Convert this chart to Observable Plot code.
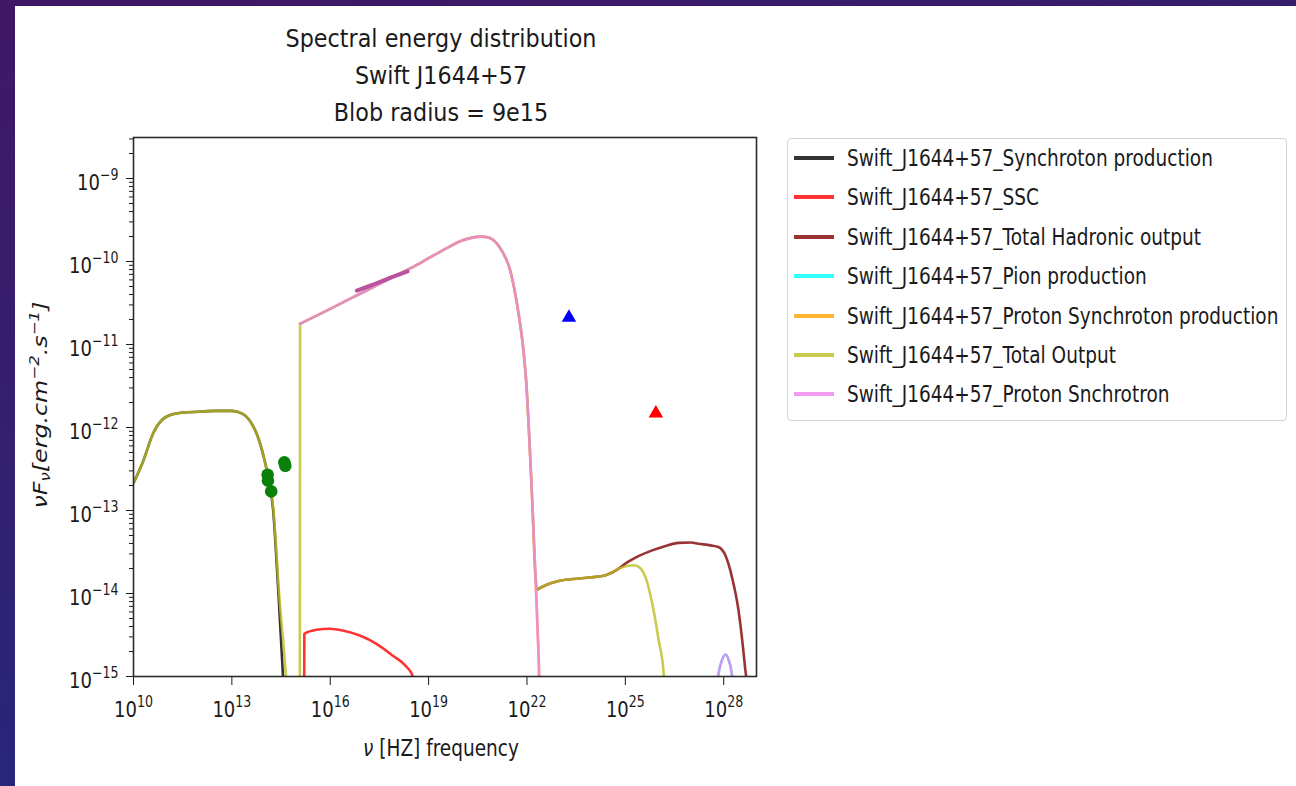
<!DOCTYPE html>
<html><head><meta charset="utf-8">
<script src="https://cdn.jsdelivr.net/npm/d3@7"></script>
<script src="https://cdn.jsdelivr.net/npm/@observablehq/plot@0.6"></script>
<style>
html,body{margin:0;padding:0;}
body{width:1296px;height:786px;overflow:hidden;position:relative;background:linear-gradient(165deg,#3f1765 0%,#33206f 40%,#1e2d88 100%);font-family:"DejaVu Sans",sans-serif;color:#1a1a1a;}
#panel{position:absolute;left:15px;top:6px;width:1281px;height:780px;background:#fff;}
#chart{position:absolute;left:0;top:0;}
#title{position:absolute;left:191px;width:500px;top:20px;text-align:center;font-size:22.3px;line-height:33px;transform:scaleY(1.12);transform-origin:0 0;}
#xlabel{position:absolute;left:291px;width:300px;top:741px;text-align:center;font-size:18.5px;line-height:18.5px;white-space:nowrap;transform:scaleY(1.2);transform-origin:50% 85%;}
#ylabel{position:absolute;left:40px;top:405px;font-size:19px;font-style:italic;white-space:nowrap;transform:translate(-50%,-50%) rotate(-90deg) scaleX(1.25);line-height:19px;}
#ylabel .sub{font-size:0.7em;vertical-align:-0.25em;}
#ylabel .sup{font-size:0.7em;vertical-align:0.6em;}
#legend{position:absolute;left:787px;top:138px;width:500px;height:283px;border:1px solid #d4d4d4;border-radius:4px;box-sizing:border-box;background:#fff;}
.row{position:absolute;left:0;width:100%;}
.sw{position:absolute;left:6px;width:40px;height:4px;}
.lt{position:absolute;left:59px;font-size:18.5px;line-height:20px;white-space:nowrap;transform:scaleY(1.2);transform-origin:0 70%;}
</style></head>
<body>
<div id="panel"></div>
<div id="chart"></div>
<div id="title">Spectral energy distribution<br>Swift J1644+57<br>Blob radius = 9e15</div>
<div id="xlabel"><i>ν</i> [HZ] frequency</div>
<div id="ylabel">ν<i>F</i><span class="sub">ν</span>[erg.cm<span class="sup">−2</span>.s<span class="sup">−1</span>]</div>
<div id="legend"></div>
<script>
// ---- tick labels (exponents of ten) ----
const xTickExp = [10, 13, 16, 19, 22, 25, 28];
const yTickExp = [-15, -14, -13, -12, -11, -10, -9];

// ---- series (log10 frequency [Hz], log10 nuF_nu [erg cm^-2 s^-1]) ----
const synchLogNu = [10.0, 10.3, 10.6, 11.0, 11.5, 12.0, 12.5, 13.0, 13.3, 13.6, 13.8, 14.0, 14.1, 14.26, 14.42, 14.56, 14.7];
const synchLogF  = [-12.67, -12.4, -12.07, -11.87, -11.82, -11.81, -11.80, -11.80, -11.83, -11.95, -12.12, -12.40, -12.58, -13.0, -14.0, -15.0, -16];

const sscLogNu = [15.2, 15.21, 15.58, 15.99, 16.38, 16.9, 17.41, 17.9, 18.32, 18.51, 18.6];
const sscLogF  = [-16, -14.486, -14.437, -14.425, -14.446, -14.506, -14.606, -14.747, -14.88, -14.99, -16];

const hadronLogNu = [22.33, 22.37, 22.57, 23.08, 23.59, 24.09, 24.4, 24.8, 25.0, 25.4, 25.82, 26.2, 26.63, 27.0, 27.23, 27.6, 27.84, 28.05, 28.15, 28.25, 28.45, 28.65, 28.7, 28.75];
const hadronLogF  = [-13.95, -13.94, -13.90, -13.84, -13.82, -13.80, -13.78, -13.70, -13.64, -13.55, -13.48, -13.43, -13.39, -13.385, -13.40, -13.42, -13.44, -13.54, -13.65, -13.80, -14.2, -14.89, -15.1, -16];

const pionLogNu = [27.7, 27.75, 27.85, 27.95, 28.06, 28.15, 28.24, 28.32, 28.36];
const pionLogF  = [-16, -15.3, -14.95, -14.8, -14.735, -14.8, -14.95, -15.3, -16];

const protonSynchLogNu = [15.08, 16.0, 17.0, 18.0, 18.5, 19.0, 19.5, 20.0, 20.3, 20.6, 20.85, 21.05, 21.2, 21.35, 21.46, 21.6, 21.76, 21.9, 21.98, 22.08, 22.16, 22.26, 22.33, 22.37, 22.4];
const protonSynchLogF  = [-10.75, -10.57, -10.37, -10.17, -10.07, -9.96, -9.85, -9.75, -9.715, -9.70, -9.715, -9.77, -9.85, -9.96, -10.07, -10.3, -10.67, -11.1, -11.47, -12.2, -12.88, -13.8, -14.5, -15.0, -16];

// total output, in three pieces (synchrotron part, jump, hadronic part)
const totalLogNu = [10.0, 10.3, 10.6, 11.0, 11.5, 12.0, 12.5, 13.0, 13.3, 13.6, 13.8, 14.0, 14.1, 14.27, 14.44, 14.65, 14.8,
  15.07, 15.08,
  15.08, 16.0, 17.0, 18.0, 18.5, 19.0, 19.5, 20.0, 20.3, 20.6, 20.85, 21.05, 21.2, 21.35, 21.46, 21.6, 21.76, 21.9, 21.98, 22.08, 22.16, 22.26,
  22.33, 22.37, 22.57, 23.08, 23.59, 24.09, 24.4, 24.8, 25.26, 25.41, 25.61, 25.82, 26.02, 26.17, 26.25];
const totalLogF  = [-12.67, -12.4, -12.07, -11.87, -11.82, -11.81, -11.80, -11.80, -11.83, -11.95, -12.12, -12.40, -12.58, -13.0, -14.0, -15.0, -16,
  -16, -10.75,
  -10.75, -10.57, -10.37, -10.17, -10.07, -9.96, -9.85, -9.75, -9.715, -9.70, -9.715, -9.77, -9.85, -9.96, -10.07, -10.3, -10.67, -11.1, -11.47, -12.2, -12.88, -13.8,
  -13.95, -13.94, -13.90, -13.84, -13.82, -13.80, -13.78, -13.70, -13.66, -13.68, -13.80, -14.12, -14.57, -14.97, -16];
const totalPiece = totalLogNu.map((v, i) => i < 17 ? 0 : i < 19 ? 1 : 2);

const protonSncLogNu = [...protonSynchLogNu, 27.7, ...pionLogNu.slice(1)];
const protonSncLogF  = [...protonSynchLogF, -16, ...pionLogF.slice(1)];

// observations
const irLogNu = [14.09, 14.1, 14.2, 14.6, 14.63];
const irLogF  = [-12.57, -12.64, -12.77, -12.42, -12.46];
const xrayLogNu = [16.81, 17.3, 17.8, 18.36];
const xrayLogF  = [-10.35, -10.28, -10.2, -10.12];
const gevLogNu = [23.28]; const gevLogF = [-10.675];
const tevLogNu = [25.93]; const tevLogF = [-11.83];

const seriesNames = ["Swift_J1644+57_Synchroton production","Swift_J1644+57_SSC","Swift_J1644+57_Total Hadronic output","Swift_J1644+57_Pion production","Swift_J1644+57_Proton Synchroton production","Swift_J1644+57_Total Output","Swift_J1644+57_Proton Snchrotron"];
const seriesColors = ["#000000","#ff0000","#800000","#00ffff","#ffa500","#bcbd22","#ee82ee"];
const seriesNu = [synchLogNu, sscLogNu, hadronLogNu, pionLogNu, protonSynchLogNu, totalLogNu, protonSncLogNu];
const seriesF  = [synchLogF, sscLogF, hadronLogF, pionLogF, protonSynchLogF, totalLogF, protonSncLogF];
const seriesPiece = [null, null, null, null, null, totalPiece, null];

const toPts = (ln, lf, pc) => ln.map((v, i) => ({x: 10 ** v, y: 10 ** lf[i], z: pc ? pc[i] : 0}));

const yMinor = [];
for (const e of yTickExp) for (let m = 2; m <= 9; m++) { const v = m * 10 ** e; if (v < 3.1e-9) yMinor.push(v); }

const lineMarks = seriesNames.map((n, i) => Plot.line(toPts(seriesNu[i], seriesF[i], seriesPiece[i]), {x: "x", y: "y", z: "z", stroke: seriesColors[i], strokeOpacity: 0.8, strokeWidth: 2.6, curve: "monotone-x", clip: true}));

const chart = Plot.plot({
  width: 770, height: 786,
  marginLeft: 133, marginRight: 14, marginTop: 137, marginBottom: 110,
  style: {fontFamily: "DejaVu Sans", fontSize: "18px", background: "transparent", color: "#1a1a1a", overflow: "visible"},
  x: {type: "log", domain: [1e10, 1e29]},
  y: {type: "log", domain: [1e-15, 3.12e-9]},
  marks: [
    ...lineMarks,
    Plot.dot(toPts(irLogNu, irLogF), {x: "x", y: "y", r: 6.3, fill: "#0a800a"}),
    Plot.line(toPts(xrayLogNu, xrayLogF), {x: "x", y: "y", stroke: "#b9529f", strokeWidth: 4}),
    Plot.dot(toPts(gevLogNu, gevLogF), {x: "x", y: "y", r: 5.4, symbol: "triangle", fill: "#0000ff"}),
    Plot.dot(toPts(tevLogNu, tevLogF), {x: "x", y: "y", r: 5.4, symbol: "triangle", fill: "#ff0000"}),
    Plot.axisY({ticks: yMinor, tickSize: 4, tickFormat: () => "", label: null}),
    Plot.axisY({ticks: yTickExp.map(e => 10 ** e), tickSize: 7, tickPadding: 8, tickFormat: d => "10|" + Math.round(Math.log10(d)), label: null}),
    Plot.axisX({ticks: xTickExp.map(e => 10 ** e), tickSize: 9, tickPadding: 16, tickFormat: d => "10|" + Math.round(Math.log10(d)), label: null}),
    Plot.frame({stroke: "#2b2b2b", strokeWidth: 1.6})
  ]
});
document.getElementById("chart").appendChild(chart);

// render exponents as superscripts
const NS = "http://www.w3.org/2000/svg";
chart.querySelectorAll('g[aria-label$="tick label"] text').forEach(t => {
  const s = t.textContent;
  if (!s.includes("|")) return;
  const [b, e] = s.split("|");
  t.textContent = "";
  const t1 = document.createElementNS(NS, "tspan"); t1.textContent = b; t.appendChild(t1);
  const t2 = document.createElementNS(NS, "tspan");
  t2.textContent = e.replace("-", "\u2212");
  t2.setAttribute("dy", "-8"); t2.setAttribute("font-size", "12.6px");
  t.appendChild(t2);
  const isY = t.closest('g').getAttribute("aria-label").startsWith("y");
  if (isY) t.setAttribute("y", "0.52em");
  const tr = t.getAttribute("transform") || "";
  t.setAttribute("transform", tr + " scale(1,1.22)");
});

// legend
const lg = document.getElementById("legend");
seriesNames.forEach((n, i) => {
  const r = document.createElement("div");
  r.className = "row"; r.style.top = (i * 39.4) + "px";
  const sw = document.createElement("div");
  sw.className = "sw"; sw.style.top = "17px"; sw.style.background = seriesColors[i]; sw.style.opacity = 0.8;
  const tx = document.createElement("div");
  tx.className = "lt"; tx.style.top = "11px"; tx.textContent = n;
  r.appendChild(sw); r.appendChild(tx); lg.appendChild(r);
});
</script>
</body></html>
